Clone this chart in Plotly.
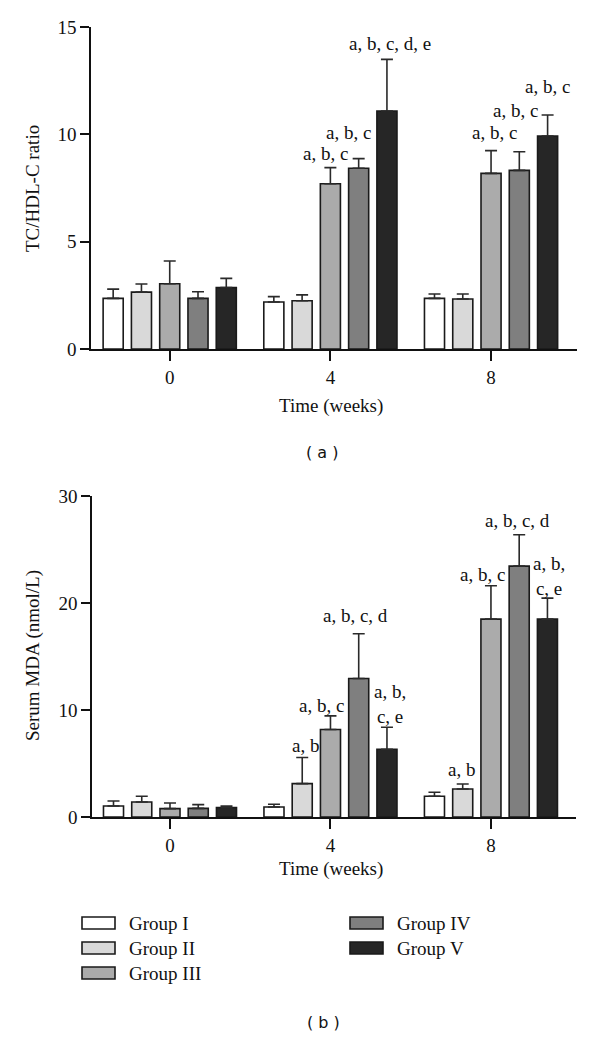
import plotly.graph_objects as go

# ---------------- data ----------------
weeks = ["0", "4", "8"]
groups = ["Group I", "Group II", "Group III", "Group IV", "Group V"]
colors = ["#ffffff", "#d9d9d9", "#ababab", "#7f7f7f", "#262626"]

# Panel (a): TC/HDL-C ratio (mean, SD) per week
tc_mean_g1 = [2.36, 2.19, 2.36]
tc_mean_g2 = [2.65, 2.25, 2.33]
tc_mean_g3 = [3.04, 7.70, 8.18]
tc_mean_g4 = [2.36, 8.42, 8.32]
tc_mean_g5 = [2.86, 11.09, 9.92]
tc_sd_g1 = [0.43, 0.25, 0.20]
tc_sd_g2 = [0.38, 0.27, 0.23]
tc_sd_g3 = [1.06, 0.75, 1.06]
tc_sd_g4 = [0.31, 0.45, 0.87]
tc_sd_g5 = [0.43, 2.40, 0.98]

# Panel (b): Serum MDA (nmol/L) (mean, SD) per week
mda_mean_g1 = [1.03, 0.94, 1.94]
mda_mean_g2 = [1.40, 3.12, 2.62]
mda_mean_g3 = [0.78, 8.18, 18.49]
mda_mean_g4 = [0.81, 12.95, 23.45]
mda_mean_g5 = [0.88, 6.33, 18.49]
mda_sd_g1 = [0.47, 0.25, 0.37]
mda_sd_g2 = [0.54, 2.44, 0.47]
mda_sd_g3 = [0.53, 1.27, 3.12]
mda_sd_g4 = [0.35, 4.17, 2.93]
mda_sd_g5 = [0.15, 2.06, 1.97]

# significance letters: (week index, group index, label)
tc_sig = [(1, 2, "a, b, c"), (1, 3, "a, b, c"), (1, 4, "a, b, c, d, e"),
          (2, 2, "a, b, c"), (2, 3, "a, b, c"), (2, 4, "a, b, c")]
mda_sig = [(1, 1, "a, b"), (1, 2, "a, b, c"), (1, 3, "a, b, c, d"), (1, 4, "a, b,<br>c, e"),
           (2, 1, "a, b"), (2, 2, "a, b, c"), (2, 3, "a, b, c, d"), (2, 4, "a, b,<br>c, e")]

tc_means = [tc_mean_g1, tc_mean_g2, tc_mean_g3, tc_mean_g4, tc_mean_g5]
tc_sds = [tc_sd_g1, tc_sd_g2, tc_sd_g3, tc_sd_g4, tc_sd_g5]
mda_means = [mda_mean_g1, mda_mean_g2, mda_mean_g3, mda_mean_g4, mda_mean_g5]
mda_sds = [mda_sd_g1, mda_sd_g2, mda_sd_g3, mda_sd_g4, mda_sd_g5]

# ---------------- layout constants ----------------
W, H = 600, 1037
OFF = 8  # page body margin of the html page
SERIF = "Liberation Serif, Times New Roman, serif"
FS = 19
BARGAP = 0.12
# label pixel offsets (dx, dy-up from error-bar top)
tc_shift = [(-5, 14), (-10, 26), (3, 16), (3, 18), (-4, 41), (0, 29)]
mda_shift = [(3, 12), (-9, 10), (-3, 18), (3, 23), (-1, 14), (-8, 11), (-2, 14), (2, 22)]


def px(x):
    return (x - OFF) / W


def py(y):
    return (H - (y - OFF)) / H


fig = go.Figure()
for means, sds, xa, ya in [(tc_means, tc_sds, "x", "y"), (mda_means, mda_sds, "x2", "y2")]:
    for i, g in enumerate(groups):
        fig.add_trace(go.Bar(
            x=weeks, y=means[i], name=g, xaxis=xa, yaxis=ya,
            marker=dict(color=colors[i], line=dict(color="#1a1a1a", width=1.6)),
            error_y=dict(type="data", array=sds[i], arrayminus=[0] * len(weeks),
                         symmetric=False, color="#2a2a2a", thickness=1.6, width=6),
            showlegend=False,
        ))

axis_common = dict(showline=True, linecolor="#111", linewidth=1.6, ticks="outside",
                   tickcolor="#111", tickwidth=1.6, showgrid=False, zeroline=False,
                   automargin=False,
                   tickfont=dict(family=SERIF, size=FS, color="#111"))

fig.update_layout(
    width=W, height=H, margin=dict(l=0, r=0, t=0, b=0, pad=0, autoexpand=False),
    paper_bgcolor="white", plot_bgcolor="white",
    barmode="group", bargap=BARGAP, bargroupgap=0.29,
    showlegend=False,
    xaxis=dict(domain=[px(91), px(577)], type="category", range=[-0.49, 2.535],
               ticklen=10, anchor="y", **axis_common),
    yaxis=dict(domain=[py(349), py(27)], range=[0, 15], tickvals=[0, 5, 10, 15],
               ticklen=9, anchor="x", **axis_common),
    xaxis2=dict(domain=[px(92), px(576)], type="category", range=[-0.486, 2.53],
                ticklen=10, anchor="y2", **axis_common),
    yaxis2=dict(domain=[py(817), py(496)], range=[0, 30], tickvals=[0, 10, 20, 30],
                ticklen=9, anchor="x2", **axis_common),
)

slot = (1 - BARGAP) / len(groups)
annotations = []


def add_sig(sig, shifts, means, sds, xref, yref):
    for (w, g, label), (dx, dy) in zip(sig, shifts):
        annotations.append(dict(
            x=w + (g - (len(groups) - 1) / 2) * slot, y=means[g][w] + sds[g][w],
            xref=xref, yref=yref, text=label, showarrow=False,
            xanchor="center", yanchor="middle", xshift=dx, yshift=dy,
            font=dict(family=SERIF, size=FS, color="#111")))


add_sig(tc_sig, tc_shift, tc_means, tc_sds, "x", "y")
add_sig(mda_sig, mda_shift, mda_means, mda_sds, "x2", "y2")


def paper_text(text, x, y, angle=0, family=SERIF, size=FS, xanchor="center"):
    annotations.append(dict(x=px(x), y=py(y), xref="paper", yref="paper", text=text,
                            showarrow=False, textangle=angle, xanchor=xanchor, yanchor="middle",
                            font=dict(family=family, size=size, color="#111")))


paper_text("TC/HDL-C ratio", 33, 189, angle=-90)
paper_text("Time (weeks)", 331, 406)
paper_text("( a )", 322, 452, family="DejaVu Sans, Verdana, sans-serif", size=16)
paper_text("Serum MDA (nmol/L)", 33, 656, angle=-90)
paper_text("Time (weeks)", 331, 869)
paper_text("( b )", 323, 1022, family="DejaVu Sans, Verdana, sans-serif", size=16)

# legend (drawn manually to match the wide swatches)
legend_pos = [(82, 923), (82, 948), (82, 973), (350, 923), (350, 948)]
shapes = []
for (lx, ly), g, c in zip(legend_pos, groups, colors):
    shapes.append(dict(type="rect", xref="paper", yref="paper",
                       x0=px(lx), x1=px(lx + 33), y0=py(ly + 6), y1=py(ly - 6),
                       fillcolor=c, line=dict(color="#1a1a1a", width=1.6)))
    paper_text(g, lx + 45, ly, xanchor="left")

fig.update_layout(annotations=annotations, shapes=shapes)
fig.write_html("out.html")
